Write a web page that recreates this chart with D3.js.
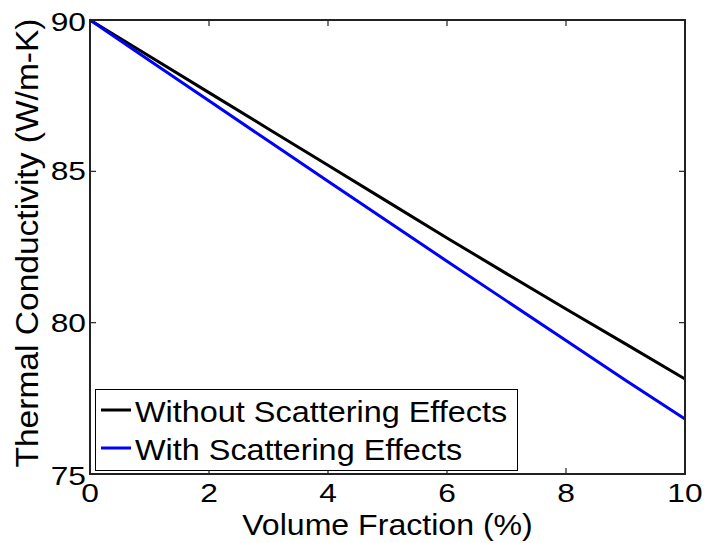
<!DOCTYPE html>
<html><head><meta charset="utf-8">
<script src="https://cdn.jsdelivr.net/npm/d3@7"></script>
<style>body{margin:0;background:#fff}text{font-family:"Liberation Sans",Arial,sans-serif;fill:#000}</style>
</head><body><svg id="c" width="704" height="543"></svg>
<script>
const volumeFraction = [0,1,2,3,4,5,6,7,8,9,10];
const withoutScattering = [90,88.8,87.6,86.4,85.2,84.0,82.8,81.62,80.45,79.3,78.14];
const withScattering = [90,88.66,87.33,86.0,84.67,83.35,82.03,80.72,79.41,78.1,76.82];
const xTicks = [0,2,4,6,8,10];
const yTicks = [75,80,85,90];
const seriesNames = ["Without Scattering Effects","With Scattering Effects"];
const seriesColors = ["#000000","#0000ff"];

const svg = d3.select("#c");
const L=90,R=685,T=20,B=474;
const x = d3.scaleLinear().domain([0,10]).range([L,R]);
const y = d3.scaleLinear().domain([75,90]).range([B,T]);

const line = d3.line().x((d,i)=>x(volumeFraction[i])).y(d=>y(d));
[withoutScattering, withScattering].forEach((s,k)=>{
  svg.append("path").attr("d",line(s)).attr("fill","none")
    .attr("stroke",seriesColors[k]).attr("stroke-width",3);
});

// axes box with inward ticks
const ax = svg.append("g").attr("stroke","#222").attr("stroke-width",2).attr("fill","none");
ax.append("rect").attr("x",L).attr("y",T).attr("width",R-L).attr("height",B-T);
xTicks.forEach(t=>{
  ax.append("line").attr("x1",x(t)).attr("x2",x(t)).attr("y1",B).attr("y2",B-6).attr("stroke-width",1.2);
  ax.append("line").attr("x1",x(t)).attr("x2",x(t)).attr("y1",T).attr("y2",T+6).attr("stroke-width",1.2);
});
yTicks.forEach(t=>{
  ax.append("line").attr("x1",L).attr("x2",L+6).attr("y1",y(t)).attr("y2",y(t)).attr("stroke-width",1.2);
  ax.append("line").attr("x1",R).attr("x2",R-6).attr("y1",y(t)).attr("y2",y(t)).attr("stroke-width",1.2);
});

// stretched text helper
function stext(px, py, sx, anchor, size, str, rot){
  const g = svg.append("g").attr("transform",`translate(${px},${py})${rot?" rotate("+rot+")":""} scale(${sx},1)`);
  g.append("text").attr("text-anchor",anchor).style("font-size",size+"px").text(str);
}
const tickSize = 25, tickSX = 1.27;
xTicks.forEach(t=> stext(x(t), 502, tickSX, "middle", tickSize, t));
yTicks.forEach(t=> stext(L-4, y(t)+(t===90?11:(t===75?11:9)), tickSX, "end", tickSize, t));

stext((L+R)/2, 535, 1.07, "middle", 30, "Volume Fraction (%)");
stext(38, (T+B)/2-4, 1.1, "middle", 30.5, "Thermal Conductivity (W/m-K)", -90);

// legend
const lg = svg.append("g");
lg.append("rect").attr("x",95.5).attr("y",389.5).attr("width",422).attr("height",81)
  .attr("fill","#fff").attr("stroke","#000").attr("stroke-width",1);
seriesNames.forEach((n,k)=>{
  const yy = 410 + k*38;
  lg.append("line").attr("x1",101).attr("x2",131).attr("y1",yy).attr("y2",yy)
    .attr("stroke",seriesColors[k]).attr("stroke-width",3);
  const g = lg.append("g").attr("transform",`translate(135,${yy+12}) scale(1.08,1)`);
  g.append("text").style("font-size","30px").text(n);
});
</script></body></html>
